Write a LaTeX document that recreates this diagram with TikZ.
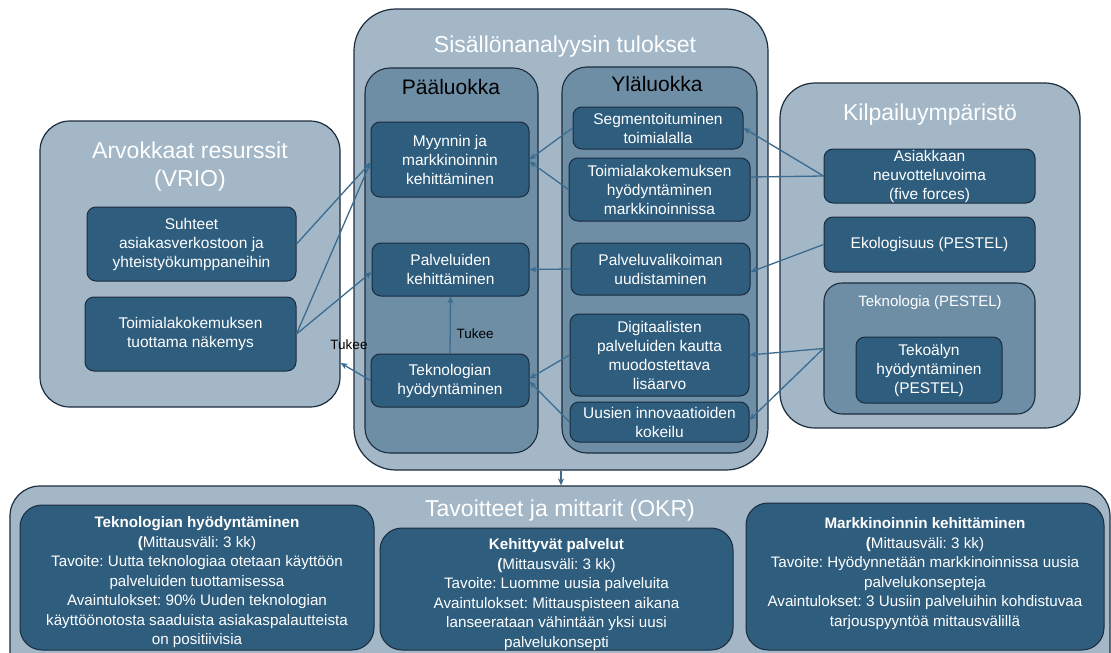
\documentclass[tikz,border=0pt]{standalone}
\usepackage{fontspec}
\setmainfont{Liberation Sans}
\usetikzlibrary{arrows.meta,calc}
\frenchspacing

\definecolor{panelLight}{HTML}{A3B7C7}
\definecolor{panelMid}{HTML}{6E8EA6}
\definecolor{boxDark}{HTML}{2E5D7E}
\definecolor{edgeDark}{HTML}{1B2C3D}
\definecolor{linkBlue}{HTML}{3B6C8F}

\tikzset{
  container/.style={draw=edgeDark, line width=1.2pt, fill=panelLight,
    rounded corners=#1, inner sep=0pt},
  container/.default=30,
  midpanel/.style={draw=edgeDark, line width=1.1pt, fill=panelMid,
    rounded corners=#1, inner sep=0pt},
  midpanel/.default=25,
  card/.style={draw=edgeDark, line width=1pt, fill=boxDark, rounded corners=#1,
    text=white, align=center, inner sep=0pt,
    font=\fontsize{15.5}{19}\selectfont},
  card/.default=9,
  titletext/.style={text=white, align=center, font=\fontsize{23}{28}\selectfont},
  headtext/.style={text=black, font=\fontsize{21}{24}\selectfont},
  subhead/.style={text=white, font=\fontsize{15}{18}\selectfont},
  okrtext/.style={text=white, align=center, font=\fontsize{15.2}{19.5}\selectfont},
  notetext/.style={text=black, font=\fontsize{13.5}{15}\selectfont},
  link/.style={draw=linkBlue, line width=1.3pt, -{Stealth[length=7pt,width=6pt]}},
  plainlink/.style={draw=linkBlue, line width=1.3pt},
}

\begin{document}
\begin{tikzpicture}[x=1pt,y=-1pt]
  \fill[white] (0,0) rectangle (1111,653);
  \useasboundingbox (0,0) rectangle (1111,653);

  % ---- Valuable resources (VRIO) ----
  \node[container=30, minimum width=300, minimum height=286] (vrio) at (190,264) {};
  \node[titletext] (vriot) at (190,167) {Arvokkaat resurssit\\(VRIO)};
  \node[card, minimum width=209, minimum height=74] (suhteet) at (191.5,244)
    {Suhteet\\asiakasverkostoon ja\\yhteistyökumppaneihin};
  \node[card, minimum width=211, minimum height=74] (naky) at (190.5,334)
    {Toimialakokemuksen\\tuottama näkemys};

  % ---- Content analysis results ----
  \node[container=42, minimum width=414, minimum height=461] (sis) at (561,239.5) {};
  \node[titletext] (sist) at (565,47) {Sisällönanalyysin tulokset};
  \node[midpanel=25, minimum width=173, minimum height=385] (paa) at (451.5,260.5) {};
  \node[headtext] (paat) at (451,87) {Pääluokka};
  \node[midpanel=25, minimum width=195, minimum height=386] (yla) at (659.5,260) {};
  \node[headtext] (ylat) at (657,84) {Yläluokka};

  \node[card, minimum width=158, minimum height=75] (myyn) at (450,159.5)
    {Myynnin ja\\markkinoinnin\\kehittäminen};
  \node[card, minimum width=157, minimum height=53] (palv) at (450.5,269.5)
    {Palveluiden\\kehittäminen};
  \node[card, minimum width=158, minimum height=53] (tekn) at (450,380.5)
    {Teknologian\\hyödyntäminen};

  \node[card, minimum width=170, minimum height=42] (segm) at (658,128)
    {Segmentoituminen\\toimialalla};
  \node[card, minimum width=181, minimum height=63] (toim) at (659.5,189.5)
    {Toimialakokemuksen\\hyödyntäminen\\markkinoinnissa};
  \node[card, minimum width=179, minimum height=52] (pvu) at (660.5,269)
    {Palveluvalikoiman\\uudistaminen};
  \node[card, minimum width=179, minimum height=82] (digi) at (659.5,355)
    {Digitaalisten\\palveluiden kautta\\muodostettava\\lisäarvo};
  \node[card, minimum width=179, minimum height=40] (uus) at (659.5,422)
    {Uusien innovaatioiden\\kokeilu};

  % ---- Competitive environment ----
  \node[container=35, minimum width=300, minimum height=345] (kil) at (930,255.5) {};
  \node[titletext] (kilt) at (930,115) {Kilpailuympäristö};
  \node[card, minimum width=211, minimum height=54] (asi) at (929.5,176)
    {Asiakkaan\\neuvotteluvoima\\(five forces)};
  \node[card, minimum width=211, minimum height=55] (eko) at (929.5,244.5)
    {Ekologisuus (PESTEL)};
  \node[midpanel=18, minimum width=211, minimum height=131] (tekp) at (929.5,348.5) {};
  \node[subhead] (tekpt) at (930,303) {Teknologia (PESTEL)};
  \node[card, minimum width=146, minimum height=66] (teko) at (929,370)
    {Tekoälyn\\hyödyntäminen\\(PESTEL)};

  % ---- Objectives and key results ----
  \node[container=30, minimum width=1100, minimum height=200] (okr) at (560,586) {};
  \node[titletext] (okrt) at (560,511) {Tavoitteet ja mittarit (OKR)};
  \node[card=22, minimum width=354, minimum height=145] (okr1) at (197,577.5) {};
  \node[card=22, minimum width=353, minimum height=122] (okr2) at (556.5,589) {};
  \node[card=22, minimum width=358, minimum height=147] (okr3) at (925,576.5) {};
  \node[okrtext] (okr1t) at (197,582.5)
    {\textbf{Teknologian hyödyntäminen}\\\textbf{(}Mittausväli: 3 kk)\\
     Tavoite: Uutta teknologiaa otetaan käyttöön\\palveluiden tuottamisessa\\
     Avaintulokset: 90\% Uuden teknologian\\
     käyttöönotosta saaduista asiakaspalautteista\\on positiivisia};
  \node[okrtext] (okr2t) at (556.5,594.5)
    {\textbf{Kehittyvät palvelut}\\\textbf{(}Mittausväli: 3 kk)\\
     Tavoite: Luomme uusia palveluita\\Avaintulokset: Mittauspisteen aikana\\
     lanseerataan vähintään yksi uusi\\palvelukonsepti};
  \node[okrtext] (okr3t) at (925,573.5)
    {\textbf{Markkinoinnin kehittäminen}\\\textbf{(}Mittausväli: 3 kk)\\
     Tavoite: Hyödynnetään markkinoinnissa uusia\\palvelukonsepteja\\
     Avaintulokset: 3 Uusiin palveluihin kohdistuvaa\\tarjouspyyntöä mittausvälillä};

  % ---- Connectors: resources to main categories ----
  \draw[link] (suhteet.east) -- ($(myyn.west)+(0,3)$);
  \draw[link] (naky.east) -- ($(myyn.west)+(0,3)$);
  \draw[link] (naky.east) -- ($(palv.west)+(0,2.5)$);
  \draw[link] (tekn.west) -- ($(vrio.east)+(0,99)$);
  \node[notetext] (tukee1) at (349,345) {Tukee};
  \draw[link] (tekn.north) -- (palv.south);
  \node[notetext, anchor=west] (tukee2) at (453,334) {Tukee};

  % ---- Connectors: upper categories to main categories ----
  \draw[link] (segm.west) -- (myyn.east);
  \draw[link] (toim.west) -- ($(myyn.east)+(0,2)$);
  \draw[link] (pvu.west) -- (palv.east);
  \draw[link] (digi.west) -- ($(tekn.east)+(0,-2)$);
  \draw[link] (uus.west) -- ($(tekn.east)+(0,1)$);

  % ---- Connectors: environment to upper categories ----
  \draw[link] (asi.west) -- (segm.east);
  \draw[plainlink] (asi.west) -- ($(toim.east)+(0,-12.5)$);
  \draw[link] (eko.west) -- ($(pvu.east)+(0,3)$);
  \draw[link] (tekp.west) -- (digi.east);
  \draw[link] (tekp.west) -- ($(uus.east)+(0,-2)$);

  % ---- Results feed the objectives ----
  \draw[link] (sis.south) -- (sis.south |- okr.north);
\end{tikzpicture}
\end{document}
